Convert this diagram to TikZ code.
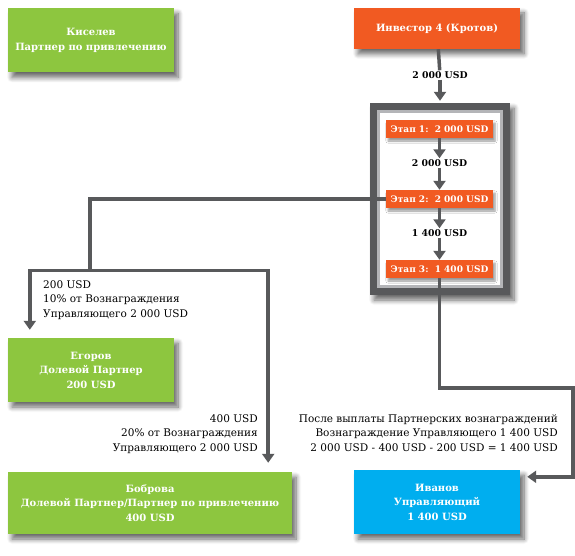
\documentclass[tikz,border=0pt]{standalone}
\usepackage{fontspec}
\setmainfont{DejaVu Serif}
\usetikzlibrary{arrows.meta,positioning,shadows.blur}

\definecolor{boxgreen}{HTML}{8DC63F}
\definecolor{boxorange}{HTML}{F15A22}
\definecolor{boxblue}{HTML}{00AEEF}
\definecolor{linegray}{HTML}{58595B}
\definecolor{rimgray}{HTML}{B4B5B8}

\tikzset{
  softshadow/.style={blur shadow={shadow xshift=4pt, shadow yshift=-5pt,
                     shadow blur steps=8, shadow blur radius=5pt, shadow opacity=60}},
  label box/.style={text=white, align=center, inner sep=0pt,
                    font=\fontsize{10}{14.5}\selectfont\bfseries},
  box/.style={label box, softshadow},
  partner/.style={box, fill=boxgreen, minimum width=166pt, minimum height=64pt},
  investor/.style={box, fill=boxorange, minimum width=166pt, minimum height=41pt},
  manager/.style={box, fill=boxblue, minimum width=166pt, minimum height=64pt},
  stagebox/.style={label box, fill=boxorange, minimum width=107pt, minimum height=18pt,
                   font=\fontsize{9}{11}\selectfont\bfseries,
                   blur shadow={shadow xshift=2pt, shadow yshift=-3pt,
                                shadow blur steps=5, shadow opacity=40}},
  amount/.style={fill=white, inner sep=1pt, font=\fontsize{9.3}{11}\selectfont\bfseries},
  note/.style={inner sep=0pt, font=\fontsize{10.5}{14.5}\selectfont},
  flow/.style={draw=linegray, line width=3.5pt},
  pay/.style={flow, -{Triangle[width=12pt,length=9pt]}}
}

\begin{document}
\begin{tikzpicture}[x=1pt,y=-1pt]
  \useasboundingbox (0,0) rectangle (575,556);

  % partners and investor
  \node[partner]  (kiselev)  at (91,40.5) {Киселев\\Партнер по привлечению};
  \node[investor] (investor) at (437,28.5) {Инвестор 4 (Кротов)};
  \node[partner]  (egorov)   at (91,370)  {Егоров\\Долевой Партнер\\200 USD};
  \node[partner, minimum width=284pt, minimum height=62pt]
                  (bobrova)  at (150,503) {Боброва\\Долевой Партнер/Партнер по привлечению\\400 USD};
  \node[manager]  (ivanov)   at (437,502) {Иванов\\Управляющий\\1 400 USD};

  % stages frame
  \node[fill=linegray, minimum width=140pt, minimum height=192pt, inner sep=0pt,
        softshadow] (frame) at (440,199) {};
  \draw[fill=white, draw=rimgray, line width=2.5pt]
    ([shift={(8.5pt,-8.5pt)}]frame.north west) rectangle ([shift={(-8.5pt,8.5pt)}]frame.south east);

  \node[stagebox] (stage1) at (439.5,129) {Этап 1:\ \ 2 000 USD};
  \node[stagebox] (stage2) at (439.5,199) {Этап 2:\ \ 2 000 USD};
  \node[stagebox] (stage3) at (439.5,269) {Этап 3:\ \ 1 400 USD};

  \node[amount] (in)   at (440,75)    {2 000 USD};
  \node[amount] (sum1) at (439.5,163) {2 000 USD};
  \node[amount] (sum2) at (439.5,233) {1 400 USD};

  % money flow
  \draw[flow] (investor) -- (in);
  \draw[pay, shorten >=2pt] (in) -- (frame);
  \draw[pay] (stage1) -- (sum1);
  \draw[pay] (sum1) -- (stage2);
  \draw[pay] (stage2) -- (sum2);
  \draw[pay] (sum2) -- (stage3);

  \coordinate (fork) at (90,270.5);
  \coordinate (bend) at (573,388);
  \draw[flow] (stage2.west) -| (fork);
  \draw[pay] (fork) -| ([xshift=22pt,yshift=8pt]egorov.north west);
  \draw[pay] (fork) -| ([xshift=-24pt,yshift=9pt]bobrova.north east);
  \draw[pay] (stage3.south) |- (bend) |- ([xshift=7pt,yshift=-7pt]ivanov.north east);

  % payment notes
  \node[note, anchor=base west, align=left]  (egnote) at (43,317)
    {200 USD\\10\% от Вознаграждения\\Управляющего 2 000 USD};
  \node[note, anchor=base east, align=right] (bonote) at (258,451)
    {400 USD\\20\% от Вознаграждения\\Управляющего 2 000 USD};
  \node[note, anchor=base east, align=right] (ivnote) at (558,451)
    {После выплаты Партнерских вознаграждений\\Вознаграждение Управляющего 1 400 USD\\2 000 USD - 400 USD - 200 USD = 1 400 USD};
\end{tikzpicture}
\end{document}
